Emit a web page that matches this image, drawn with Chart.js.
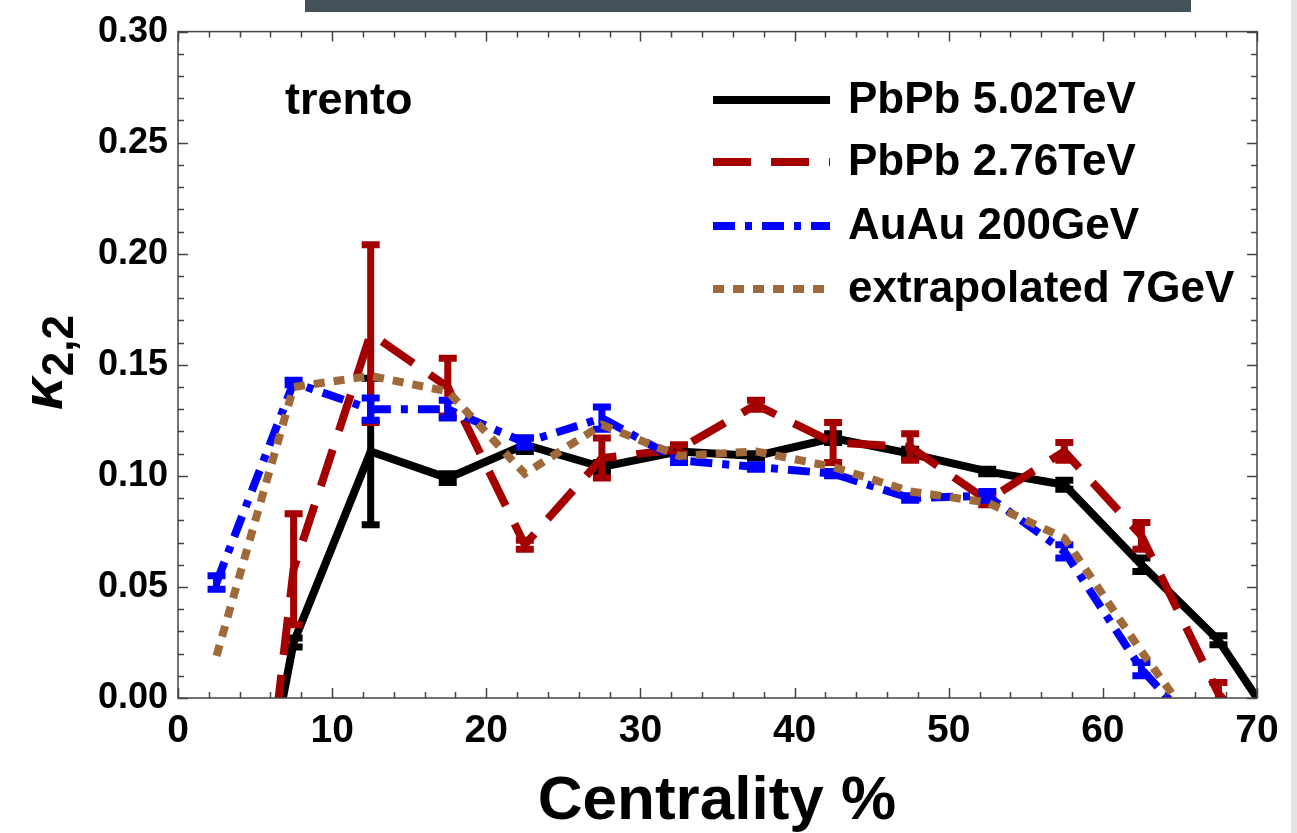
<!DOCTYPE html>
<html>
<head>
<meta charset="utf-8">
<script src="https://cdn.jsdelivr.net/npm/chart.js@4"></script>
<style>
  body { margin: 0; background: #ffffff; }
  #wrap { position: relative; width: 1297px; height: 833px; overflow: hidden; }
  #barra { position: absolute; left: 305px; top: 0; width: 886px; height: 12px; background: #44525c; }
  #borda { position: absolute; left: 1291px; top: 0; width: 6px; height: 833px; background: #e4e4e2; }
</style>
</head>
<body>
<div id="wrap">
  <canvas id="grafico" width="1297" height="833"></canvas>
  <div id="barra"></div>
  <div id="borda"></div>
</div>
<script>
// centralidade (%) - pontos fora do eixo sao cortados pela area do grafico
const centralidade = [2.5, 7.5, 12.5, 17.5, 22.5, 27.5, 32.5, 37.5, 42.5, 47.5, 52.5, 57.5, 62.5, 67.5, 72.5];

const pbpb502    = [-0.155, 0.025, 0.111, 0.099, 0.114, 0.104, 0.111, 0.109, 0.117, 0.110, 0.102, 0.096, 0.060, 0.026, -0.026];
const pbpb502Err = [0, 0.002, 0.033, 0.002, 0.003, 0.002, 0.001, 0.001, 0.002, 0.002, 0.001, 0.002, 0.003, 0.002, 0];

const pbpb276    = [-0.24, 0.058, 0.164, 0.140, 0.069, 0.108, 0.112, 0.132, 0.115, 0.113, 0.089, 0.111, 0.073, 0.002, -0.04];
const pbpb276Err = [0, 0.025, 0.040, 0.013, 0.002, 0.009, 0.002, 0.002, 0.009, 0.006, 0.002, 0.004, 0.006, 0.005, 0];

const auau200    = [0.052, 0.142, 0.130, 0.130, 0.115, 0.126, 0.107, 0.104, 0.101, 0.090, 0.091, 0.066, 0.013, -0.025, null];
const auau200Err = [0.003, 0.001, 0.005, 0.004, 0.002, 0.005, 0.001, 0.001, 0.001, 0.001, 0.002, 0.003, 0.003, 0, 0];

const extrap7    = [0.019, 0.140, 0.145, 0.138, 0.101, 0.123, 0.109, 0.111, 0.104, 0.093, 0.088, 0.072, 0.021, -0.027, null];

const ticksY = [0, 0.05, 0.10, 0.15, 0.20, 0.25, 0.30];
const ticksX = [0, 10, 20, 30, 40, 50, 60, 70];

function pontos(valores) {
    let lista = [];
    for (let i = 0; i < centralidade.length; i++) {
        if (valores[i] != null) lista.push({ x: centralidade[i], y: valores[i] });
    }
    return lista;
}

const FONTE = '"Liberation Sans", Arial, sans-serif';

const series = [
    { label: 'PbPb 5.02TeV', data: pontos(pbpb502), valores: pbpb502, erros: pbpb502Err, borderColor: '#000000', borderDash: [], order: 4 },
    { label: 'PbPb 2.76TeV', data: pontos(pbpb276), valores: pbpb276, erros: pbpb276Err, borderColor: '#a50000', borderDash: [38, 20], order: 3 },
    { label: 'AuAu 200GeV', data: pontos(auau200), valores: auau200, erros: auau200Err, borderColor: '#0000ff', borderDash: [22, 10, 7, 10], order: 2 },
    { label: 'extrapolated 7GeV', data: pontos(extrap7), valores: extrap7, erros: null, borderColor: '#a0693a', borderDash: [11, 9], order: 1 }
];

series.forEach(s => {
    s.borderWidth = 8;
    s.pointRadius = 0;
    s.tension = 0;
    s.fill = false;
    s.clip = 0;
    s.borderCapStyle = 'butt';
});

// barras de erro desenhadas logo depois de cada serie
const barrasErro = {
    id: 'barrasErro',
    afterDatasetDraw(chart, args) {
        const ds = chart.data.datasets[args.index];
        if (!ds.erros) return;
        const ctx = chart.ctx, a = chart.chartArea;
        const sx = chart.scales.x, sy = chart.scales.y;
        ctx.save();
        ctx.beginPath();
        ctx.rect(a.left, a.top, a.right - a.left, a.bottom - a.top);
        ctx.clip();
        ctx.strokeStyle = ds.borderColor;
        ctx.lineWidth = 7;
        ctx.setLineDash([]);
        ctx.lineCap = 'butt';
        for (let i = 0; i < centralidade.length; i++) {
            const v = ds.erros[i];
            if (!v) continue;
            const px = sx.getPixelForValue(centralidade[i]);
            const y = ds.valores[i];
            const y1 = sy.getPixelForValue(y - v), y2 = sy.getPixelForValue(y + v);
            ctx.beginPath();
            ctx.moveTo(px, y1); ctx.lineTo(px, y2);
            ctx.moveTo(px - 9, y1); ctx.lineTo(px + 9, y1);
            ctx.moveTo(px - 9, y2); ctx.lineTo(px + 9, y2);
            ctx.stroke();
        }
        ctx.restore();
    }
};

// moldura com marcas internas nos quatro lados
const moldura = {
    id: 'moldura',
    afterDraw(chart) {
        const ctx = chart.ctx, a = chart.chartArea;
        const sx = chart.scales.x, sy = chart.scales.y;
        ctx.save();
        ctx.strokeStyle = '#444444';
        ctx.lineWidth = 1.5;
        ctx.strokeRect(a.left, a.top, a.right - a.left, a.bottom - a.top);
        ctx.beginPath();
        for (let v = 0; v <= 70; v += 2) {
            const px = Math.round(sx.getPixelForValue(v)) + 0.5;
            const t = v % 10 === 0 ? 10 : 6;
            ctx.moveTo(px, a.bottom); ctx.lineTo(px, a.bottom - t);
            ctx.moveTo(px, a.top); ctx.lineTo(px, a.top + t);
        }
        for (let k = 0; k <= 30; k++) {
            const py = Math.round(sy.getPixelForValue(k / 100)) + 0.5;
            const t = k % 5 === 0 ? 10 : 6;
            ctx.moveTo(a.left, py); ctx.lineTo(a.left + t, py);
            ctx.moveTo(a.right, py); ctx.lineTo(a.right - t, py);
        }
        ctx.stroke();

        // titulo do eixo x
        ctx.fillStyle = '#000';
        ctx.font = 'bold 62px ' + FONTE;
        ctx.textAlign = 'center';
        ctx.textBaseline = 'alphabetic';
        ctx.fillText('Centrality %', 717, 819);

        // titulo do eixo y: kappa com subscrito 2,2
        ctx.save();
        ctx.translate(62, 410);
        ctx.rotate(-Math.PI / 2);
        ctx.textAlign = 'left';
        ctx.font = 'italic bold 58px ' + FONTE;
        ctx.fillText('κ', 0, 0);
        const w = ctx.measureText('κ').width;
        ctx.font = 'bold 44px ' + FONTE;
        ctx.fillText('2,2', w + 1, 11);
        ctx.restore();

        // texto trento
        ctx.font = 'bold 45px ' + FONTE;
        ctx.textAlign = 'left';
        ctx.fillText('trento', 285, 114);

        // legenda
        const linhas = [100, 162, 226, 289];
        chart.data.datasets.forEach((ds, i) => {
            const y = linhas[i];
            ctx.strokeStyle = ds.borderColor;
            ctx.lineWidth = 8;
            ctx.setLineDash(ds.borderDash);
            ctx.beginPath();
            ctx.moveTo(713, y); ctx.lineTo(830, y);
            ctx.stroke();
            ctx.setLineDash([]);
            ctx.fillStyle = '#000';
            ctx.font = 'bold 44px ' + FONTE;
            ctx.textBaseline = 'middle';
            ctx.fillText(ds.label, 848, y + 1);
        });
        ctx.restore();
    }
};

new Chart(document.getElementById('grafico'), {
    type: 'line',
    data: { datasets: series },
    options: {
        responsive: false,
        animation: false,
        layout: { padding: { top: 30, right: 40, left: 0, bottom: 0 } },
        plugins: { legend: { display: false }, tooltip: { enabled: false } },
        scales: {
            x: {
                type: 'linear',
                min: 0, max: 70,
                grid: { display: false, drawTicks: false },
                border: { display: false },
                afterBuildTicks: s => { s.ticks = ticksX.map(v => ({ value: v })); },
                afterFit: s => { s.height = 135; },
                ticks: {
                    color: '#000', padding: 10,
                    font: { family: FONTE, size: 39, weight: 'bold' },
                    maxRotation: 0
                }
            },
            y: {
                type: 'linear',
                min: 0, max: 0.3,
                grid: { display: false, drawTicks: false },
                border: { display: false },
                afterBuildTicks: s => { s.ticks = ticksY.map(v => ({ value: v })); },
                afterFit: s => { s.width = 178; },
                ticks: {
                    color: '#000', padding: 10,
                    font: { family: FONTE, size: 36, weight: 'bold' },
                    callback: v => Number(v).toFixed(2)
                }
            }
        }
    },
    plugins: [barrasErro, moldura]
});
</script>
</body>
</html>
